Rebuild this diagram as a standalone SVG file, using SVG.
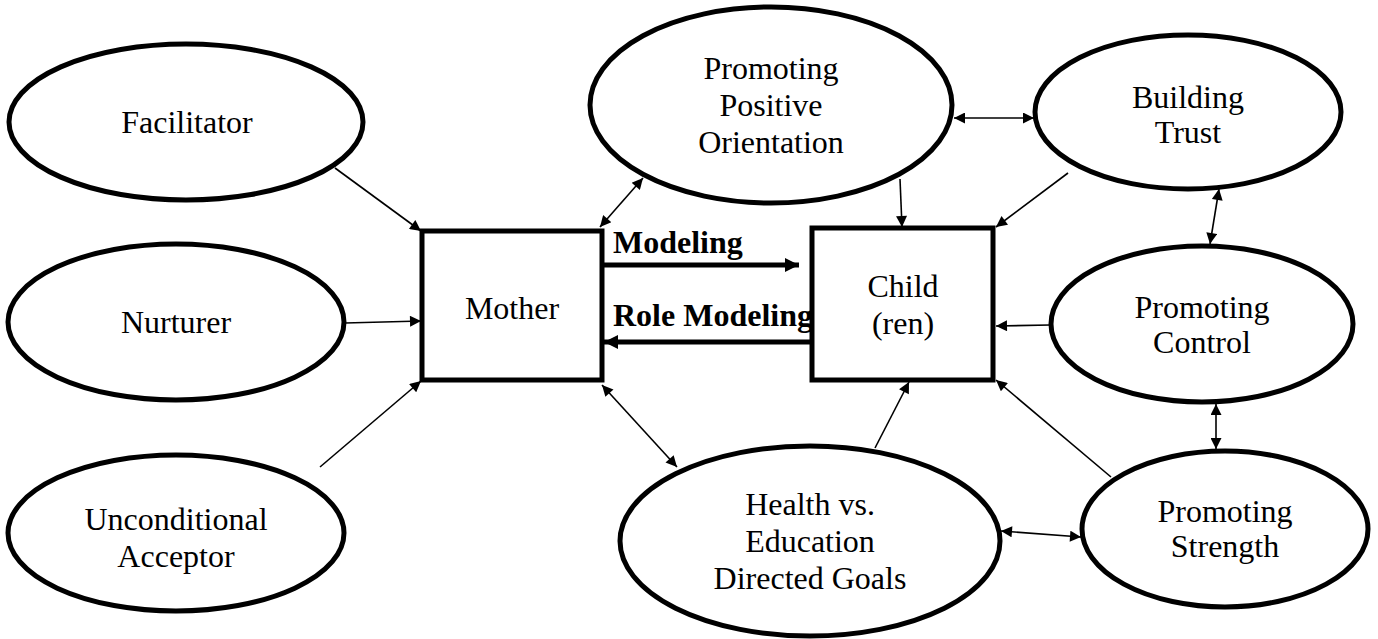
<svg xmlns="http://www.w3.org/2000/svg" width="1378" height="639" viewBox="0 0 1378 639">
<style>
.n{fill:#fff;stroke:#000;stroke-width:5}
.t{font-family:'Liberation Serif','Times New Roman',serif;font-size:32px;fill:#000;text-anchor:middle}
.b{font-family:'Liberation Serif','Times New Roman',serif;font-size:32px;font-weight:bold;fill:#000}
.c{stroke:#000;stroke-width:1.6;fill:none}
.k{stroke:#000;stroke-width:5;fill:none}
</style>
<defs>
<marker id="a" viewBox="0 0 10 10" refX="10" refY="5" markerWidth="13" markerHeight="11" markerUnits="userSpaceOnUse" orient="auto-start-reverse"><path d="M0,0L10,5L0,10z" fill="#000"/></marker>
<marker id="ab" viewBox="0 0 10 10" refX="10" refY="5" markerWidth="16" markerHeight="14" markerUnits="userSpaceOnUse" orient="auto"><path d="M0,0L10,5L0,10z" fill="#000"/></marker>
</defs>
<rect width="1378" height="639" fill="#fff"/>
<g id="facilitator"><ellipse class="n" cx="186" cy="122" rx="177" ry="78"/><text class="t" x="187" y="133">Facilitator</text></g>
<g id="nurturer"><ellipse class="n" cx="176" cy="322" rx="168" ry="78"/><text class="t" x="176" y="333">Nurturer</text></g>
<g id="acceptor"><ellipse class="n" cx="176" cy="533" rx="168" ry="78"/><text class="t" x="176" y="530">Unconditional</text><text class="t" x="176" y="567">Acceptor</text></g>
<g id="mother"><rect class="n" x="422" y="231" width="180" height="149"/><text class="t" x="512" y="319">Mother</text></g>
<g id="child"><rect class="n" x="812" y="228" width="181" height="152"/><text class="t" x="903" y="297">Child</text><text class="t" x="903" y="334">(ren)</text></g>
<g id="ppo"><ellipse class="n" cx="771" cy="105" rx="181" ry="98"/><text class="t" x="771" y="79">Promoting</text><text class="t" x="771" y="116">Positive</text><text class="t" x="771" y="153">Orientation</text></g>
<g id="trust"><ellipse class="n" cx="1188" cy="112" rx="153" ry="77"/><text class="t" x="1188" y="108">Building</text><text class="t" x="1188" y="143">Trust</text></g>
<g id="control"><ellipse class="n" cx="1202" cy="324" rx="151" ry="78"/><text class="t" x="1202" y="318">Promoting</text><text class="t" x="1202" y="353">Control</text></g>
<g id="strength"><ellipse class="n" cx="1225" cy="529" rx="143" ry="78"/><text class="t" x="1225" y="522">Promoting</text><text class="t" x="1225" y="557">Strength</text></g>
<g id="goals"><ellipse class="n" cx="810" cy="541" rx="190" ry="95"/><text class="t" x="810" y="515">Health vs.</text><text class="t" x="810" y="552">Education</text><text class="t" x="810" y="589">Directed Goals</text></g>
<g id="connectors">
<line class="c" x1="335" y1="168" x2="421" y2="231" marker-end="url(#a)"/>
<line class="c" x1="345" y1="323" x2="421" y2="321" marker-end="url(#a)"/>
<line class="c" x1="320" y1="467" x2="421" y2="381" marker-end="url(#a)"/>
<line class="c" x1="600" y1="227" x2="643" y2="178" marker-start="url(#a)" marker-end="url(#a)"/>
<line class="k" x1="602" y1="265" x2="799" y2="265" marker-end="url(#ab)"/>
<text class="b" x="613" y="253">Modeling</text>
<line class="k" x1="811" y1="342" x2="604" y2="342" marker-end="url(#ab)"/>
<text class="b" x="613" y="326">Role Modeling</text>
<line class="c" x1="900" y1="179" x2="902" y2="227" marker-end="url(#a)"/>
<line class="c" x1="1068" y1="173" x2="996" y2="227" marker-end="url(#a)"/>
<line class="c" x1="954" y1="118" x2="1034" y2="118" marker-start="url(#a)" marker-end="url(#a)"/>
<line class="c" x1="1219" y1="189" x2="1210" y2="244" marker-start="url(#a)" marker-end="url(#a)"/>
<line class="c" x1="1050" y1="325" x2="996" y2="326" marker-end="url(#a)"/>
<line class="c" x1="1216" y1="404" x2="1216" y2="449" marker-start="url(#a)" marker-end="url(#a)"/>
<line class="c" x1="1111" y1="477" x2="996" y2="380" marker-end="url(#a)"/>
<line class="c" x1="875" y1="448" x2="909" y2="382" marker-end="url(#a)"/>
<line class="c" x1="602" y1="385" x2="677" y2="467" marker-start="url(#a)" marker-end="url(#a)"/>
<line class="c" x1="1001" y1="531" x2="1081" y2="537" marker-start="url(#a)" marker-end="url(#a)"/>
</g>
</svg>
